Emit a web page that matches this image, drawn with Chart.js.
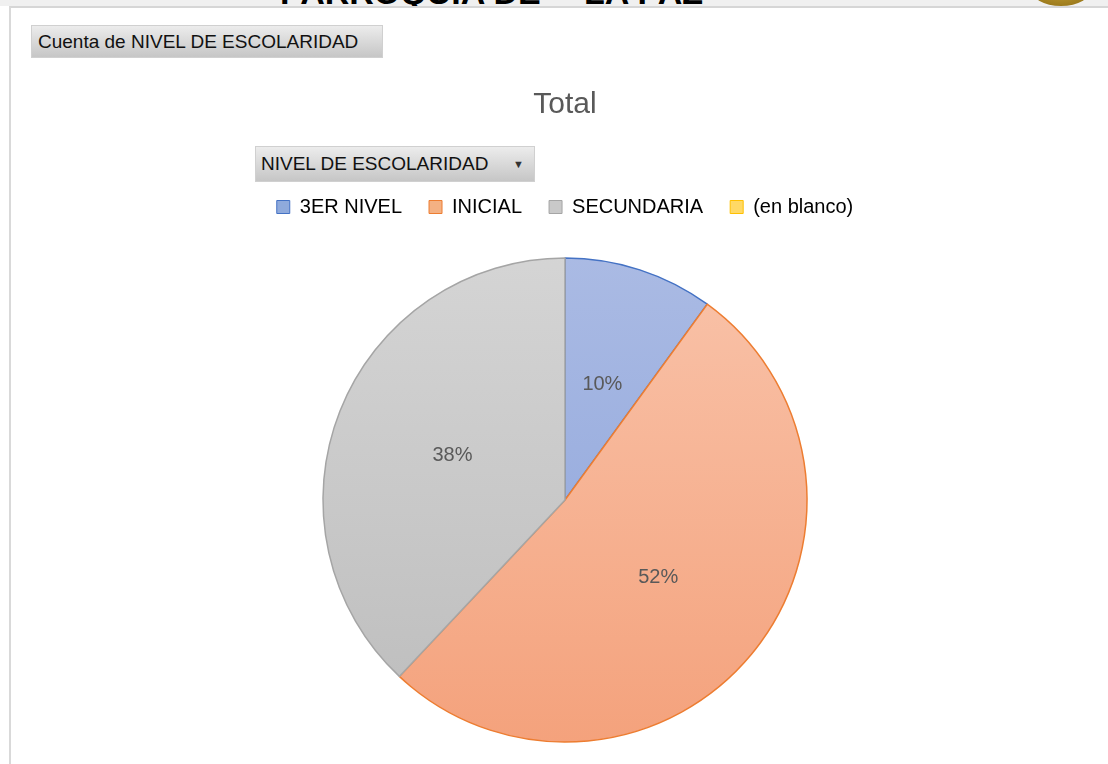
<!DOCTYPE html>
<html lang="es">
<head>
<meta charset="utf-8">
<title>Cuenta de NIVEL DE ESCOLARIDAD</title>
<script src="https://cdn.jsdelivr.net/npm/chart.js@4.4.1/dist/chart.umd.min.js"></script>
<style>
  html, body { margin: 0; padding: 0; background: #fff; }
  body { width: 1108px; height: 764px; position: relative; overflow: hidden; font-family: "Liberation Sans", Arial, sans-serif; }
  .strip { position: absolute; left: 0; top: 0; width: 1108px; height: 6px; background: #f0f0f0; overflow: hidden; }
  .strip .head { position: absolute; top: -28px; font: bold 34px/40px "Liberation Sans", Arial, sans-serif; color: #000; white-space: nowrap; }
  .strip .logo { position: absolute; left: 1030px; top: -30px; width: 62px; height: 36px; border-radius: 50%; background: radial-gradient(#c9a437, #8a6a12); }
  .panel { position: absolute; left: 9px; top: 6px; right: 0; bottom: 0; border-top: 2px solid #d6d6d6; border-left: 2px solid #d9d9d9; background: #fff; }
  .btn { position: absolute; background: linear-gradient(#ececec, #c6c6c6); border: 1px solid #d0d0d0; color: #111; font-size: 19px; white-space: nowrap; box-sizing: border-box; }
  #btn-valor { left: 31px; top: 25px; width: 352px; height: 33px; line-height: 31px; padding-left: 6px; }
  #btn-campo { left: 255px; top: 146px; width: 280px; height: 36px; line-height: 34px; padding-left: 5px; }
  #btn-campo .arr { position: absolute; left: 257px; top: 0; font-size: 11px; color: #333; }
  #grafico { position: absolute; left: 0; top: 0; }
</style>
</head>
<body>
<div class="strip">
  <span class="head" style="left:280px">PARROQUIA DE</span>
  <span class="head" style="left:584px">LA PAZ</span>
  <div class="logo"></div>
</div>
<div class="panel"></div>
<canvas id="grafico" width="1108" height="764"></canvas>
<div class="btn" id="btn-valor">Cuenta de NIVEL DE ESCOLARIDAD</div>
<div class="btn" id="btn-campo">NIVEL DE ESCOLARIDAD<span class="arr">&#9660;</span></div>

<script>
  // ── datos ─────────────────────────────────────────────────────────────
  const niveles = ['3ER NIVEL', 'INICIAL', 'SECUNDARIA', '(en blanco)'];
  const cuenta = [10, 52, 38, 0];   // porcentajes

  // colores tipo Excel: [arriba, abajo, borde]
  const colores = [
    ['#abbbe4', '#8aa2da', '#4472c4'],
    ['#f9c4ab', '#f4a17b', '#ed7d31'],
    ['#d5d5d5', '#bcbcbc', '#a5a5a5'],
    ['#ffdf80', '#ffc000', '#ffc000'],
  ];
  const cajaLeyenda = ['#8faadc', '#f4b183', '#c9c9c9', '#ffd966'];

  const FUENTE = '"Liberation Sans", Arial, sans-serif';
  const GRIS = '#595959';

  function relleno(ctx) {
    const c = colores[ctx.dataIndex];
    const area = ctx.chart.chartArea;
    if (!area) return c[1];
    const g = ctx.chart.ctx.createLinearGradient(0, area.top, 0, area.bottom);
    g.addColorStop(0, c[0]);
    g.addColorStop(1, c[1]);
    return g;
  }

  // espacio extra debajo de la leyenda
  const espacioLeyenda = {
    id: 'espacioLeyenda',
    beforeInit(chart) {
      const fit = chart.legend.fit;
      chart.legend.fit = function () {
        fit.bind(chart.legend)();
        this.height += 18;
      };
    }
  };

  // etiquetas de porcentaje en el centro de cada porción
  const etiquetas = {
    id: 'etiquetas',
    afterDatasetsDraw(chart) {
      const { ctx } = chart;
      const meta = chart.getDatasetMeta(0);
      const total = cuenta.reduce((a, b) => a + b, 0);
      ctx.save();
      ctx.font = '20px ' + FUENTE;
      ctx.fillStyle = GRIS;
      ctx.textAlign = 'center';
      ctx.textBaseline = 'middle';
      meta.data.forEach((arc, i) => {
        if (!cuenta[i]) return;
        const p = arc.tooltipPosition();
        ctx.fillText(Math.round(cuenta[i] / total * 100) + '%', p.x, p.y);
      });
      ctx.restore();
    }
  };

  new Chart(document.getElementById('grafico'), {
    type: 'pie',
    data: {
      labels: niveles,
      datasets: [{
        data: cuenta,
        backgroundColor: relleno,
        borderColor: colores.map(c => c[2]),
        borderWidth: 1.5,
        radius: 242
      }]
    },
    options: {
      responsive: false,
      animation: false,
      layout: { padding: { left: 22, right: 0, top: 0, bottom: 9 } },
      plugins: {
        title: {
          display: true, text: 'Total', color: GRIS,
          font: { family: FUENTE, size: 30, weight: 'normal' },
          padding: { top: 87, bottom: 47 }
        },
        legend: {
          position: 'top',
          labels: {
            boxWidth: 13, boxHeight: 13, padding: 27, color: GRIS,
            font: { family: FUENTE, size: 20 },
            generateLabels: () => niveles.map((n, i) => ({
              text: n, fillStyle: cajaLeyenda[i], strokeStyle: colores[i][2],
              lineWidth: 1, index: i, hidden: false
            }))
          }
        },
        tooltip: { enabled: false }
      }
    },
    plugins: [espacioLeyenda, etiquetas]
  });
</script>
</body>
</html>
